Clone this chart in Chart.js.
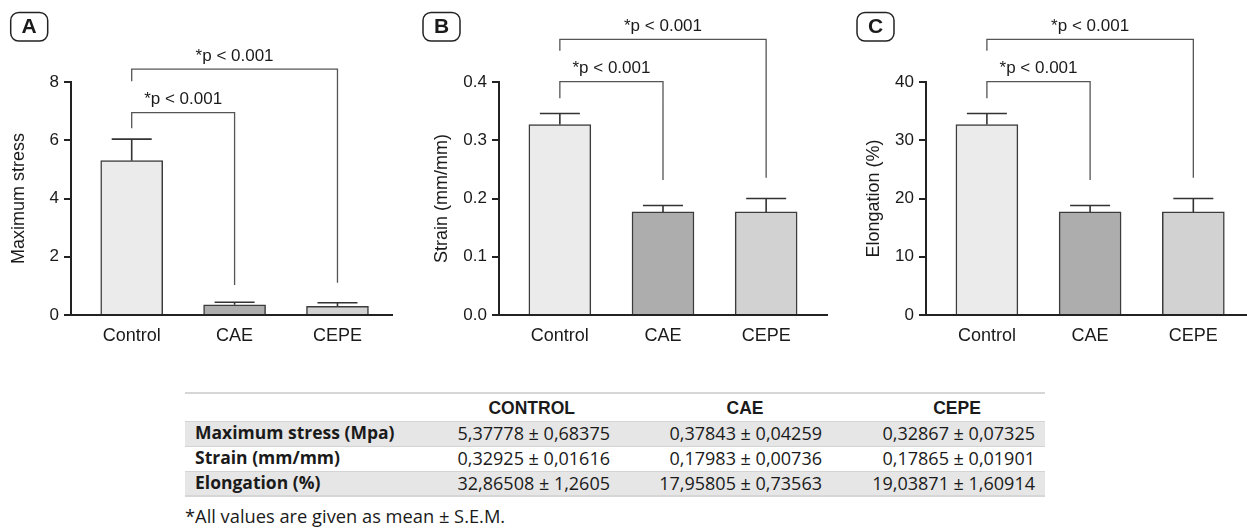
<!DOCTYPE html>
<html><head><meta charset="utf-8">
<script src="https://cdn.jsdelivr.net/npm/chart.js@4.4.0/dist/chart.umd.min.js"></script>
<style>
body{margin:0;background:#fff;width:1247px;height:529px;overflow:hidden;position:relative;font-family:'Liberation Sans',Arial,sans-serif}
canvas{position:absolute;top:0}
.band{position:absolute;left:185px;width:860px}
.t{position:absolute;white-space:nowrap;line-height:1;color:#1a1a1a}
.lab{font-family:'Open Sans',Lato,sans-serif;font-weight:700;font-size:17.5px}
.val{font-family:'Open Sans',Lato,sans-serif;font-size:18px}
.hdr{font-family:'Liberation Sans',Arial,sans-serif;font-weight:700;font-size:17.5px}
</style></head><body>
<canvas id="cA" width="400" height="350" style="left:0px"></canvas>
<canvas id="cB" width="425" height="350" style="left:410px"></canvas>
<canvas id="cC" width="407" height="350" style="left:840px"></canvas>
<div id="tbl"></div>
<script>
const categories = ['Control', 'CAE', 'CEPE'];
const barColors = ['#ebebeb', '#adadad', '#d1d2d1'];

const stressMean = [5.30, 0.35, 0.30];
const stressSem  = [0.74, 0.09, 0.12];
const strainMean = [0.327, 0.177, 0.177];
const strainSem  = [0.019, 0.011, 0.023];
const elongMean  = [32.7, 17.7, 17.7];
const elongSem   = [1.9, 1.1, 2.3];

const stressTicks = [0, 2, 4, 6, 8];
const strainTicks = [0, 0.1, 0.2, 0.3, 0.4];
const elongTicks  = [0, 10, 20, 30, 40];

const pLabel = '*p < 0.001';
// significance brackets (data units): from Control to category index "to"
const stressBrackets = [{to: 1, level: 6.95, leftEnd: 6.41, rightEnd: 1.03}, {to: 2, level: 8.44, leftEnd: 8.03, rightEnd: 1.11}];
const strainBrackets = [{to: 1, level: 0.4005, leftEnd: 0.372, rightEnd: 0.2318}, {to: 2, level: 0.4733, leftEnd: 0.4537, rightEnd: 0.2357}];
const elongBrackets  = [{to: 1, level: 40.05, leftEnd: 37.2, rightEnd: 23.18}, {to: 2, level: 47.33, leftEnd: 45.37, rightEnd: 23.57}];

const tableHeader  = ['CONTROL', 'CAE', 'CEPE'];
const tableRowLabels = ['Maximum stress (Mpa)', 'Strain (mm/mm)', 'Elongation (%)'];
const tableControl = ['5,37778 ± 0,68375', '0,32925 ± 0,01616', '32,86508 ± 1,2605'];
const tableCAE     = ['0,37843 ± 0,04259', '0,17983 ± 0,00736', '17,95805 ± 0,73563'];
const tableCEPE    = ['0,32867 ± 0,07325', '0,17865 ± 0,01901', '19,03871 ± 1,60914'];
const footnote = '*All values are given as mean ± S.E.M.';

const FONT = "'Liberation Sans', Arial, sans-serif";
const TXT = '#1a1a1a';

function makePanel(id, cfg) {
  const annot = {
    id: 'annot' + id,
    afterDatasetsDraw(chart) {
      const ctx = chart.ctx, xs = chart.scales.x, ys = chart.scales.y;
      ctx.save();
      // error bars
      ctx.strokeStyle = '#333'; ctx.lineWidth = 1.6;
      cfg.mean.forEach((m, i) => {
        const x = xs.getPixelForValue(i);
        const y0 = ys.getPixelForValue(m), y1 = ys.getPixelForValue(m + cfg.sem[i]);
        ctx.beginPath();
        ctx.moveTo(x, y0); ctx.lineTo(x, y1);
        ctx.moveTo(x - 20, y1); ctx.lineTo(x + 20, y1);
        ctx.stroke();
      });
      // brackets
      ctx.strokeStyle = '#555'; ctx.lineWidth = 1.3;
      ctx.fillStyle = TXT; ctx.font = '17px ' + FONT;
      ctx.textAlign = 'center'; ctx.textBaseline = 'middle';
      cfg.brackets.forEach(b => {
        const x0 = xs.getPixelForValue(0), x1 = xs.getPixelForValue(b.to);
        const yl = ys.getPixelForValue(b.level);
        ctx.beginPath();
        ctx.moveTo(x0, ys.getPixelForValue(b.leftEnd));
        ctx.lineTo(x0, yl); ctx.lineTo(x1, yl);
        ctx.lineTo(x1, ys.getPixelForValue(b.rightEnd));
        ctx.stroke();
        ctx.fillText(pLabel, (x0 + x1) / 2, yl - 13);
      });
      // panel letter
      ctx.strokeStyle = '#222'; ctx.lineWidth = 1.5;
      ctx.beginPath();
      ctx.roundRect(cfg.boxX, 12.5, 37, 28.5, 8);
      ctx.stroke();
      ctx.font = 'bold 21px ' + FONT;
      ctx.fillText(cfg.letter, cfg.boxX + 18.5, 27.5);
      ctx.restore();
    }
  };
  new Chart(document.getElementById(id), {
    type: 'bar',
    data: {
      datasets: [{
        data: categories.map((c, i) => ({x: i, y: cfg.mean[i]})),
        backgroundColor: barColors,
        borderColor: '#3c3c3c',
        borderWidth: 1.5,
        barThickness: 62,
        borderSkipped: 'start'
      }]
    },
    options: {
      responsive: false, animation: false, devicePixelRatio: 1,
      layout: {padding: {top: 82, right: cfg.padRight, left: 0, bottom: 0}},
      plugins: {legend: {display: false}, tooltip: {enabled: false}},
      scales: {
        x: {
          type: 'linear', min: -0.59, max: cfg.xMax, offset: false,
          afterBuildTicks: s => { s.ticks = categories.map((_, i) => ({value: i})); },
          afterFit: s => { s.height = 35; },
          grid: {display: false, drawTicks: false},
          border: {display: true, color: '#222', width: 2},
          ticks: {autoSkip: false, maxRotation: 0, padding: 10, color: TXT,
                  font: {size: 18, family: FONT}, callback: v => categories[v]}
        },
        y: {
          min: 0, max: cfg.ticks[cfg.ticks.length - 1],
          afterBuildTicks: s => { s.ticks = cfg.ticks.map(v => ({value: v})); },
          afterFit: s => { s.width = cfg.axisLeft; },
          grid: {display: true, drawOnChartArea: false, drawTicks: true, tickLength: 7, color: '#222', lineWidth: 2},
          border: {display: true, color: '#222', width: 2},
          ticks: {padding: 5, color: TXT, font: {size: 17, family: FONT}, callback: v => cfg.fmt(v)},
          title: {display: true, text: cfg.title, color: TXT, font: {size: 18, family: FONT},
                  padding: {top: cfg.titlePad, bottom: 0}}
        }
      }
    },
    plugins: [annot]
  });
}

makePanel('cA', {mean: stressMean, sem: stressSem, ticks: stressTicks, brackets: stressBrackets,
  fmt: v => String(v), title: 'Maximum stress', letter: 'A', boxX: 10.7, axisLeft: 71, padRight: 8,
  titlePad: 8.2, xMax: 2.53});
makePanel('cB', {mean: strainMean, sem: strainSem, ticks: strainTicks, brackets: strainBrackets,
  fmt: v => v.toFixed(1), title: 'Strain (mm/mm)', letter: 'B', boxX: 13, axisLeft: 89, padRight: 8,
  titlePad: 20.9, xMax: 2.59});
makePanel('cC', {mean: elongMean, sem: elongSem, ticks: elongTicks, brackets: elongBrackets,
  fmt: v => String(v), title: 'Elongation (%)', letter: 'C', boxX: 17, axisLeft: 86, padRight: 0,
  titlePad: 23.5, xMax: 2.52});

// table
(function () {
  const tbl = document.getElementById('tbl');
  const add = (cls, style, text) => {
    const d = document.createElement('div');
    d.className = cls; d.setAttribute('style', style);
    if (text !== undefined) d.textContent = text;
    tbl.appendChild(d);
    return d;
  };
  add('band', 'top:392px;height:2px;background:#d6d6d6');
  const rowTop = [421, 446, 471];
  const rowBg = ['#e6e6e6', '#ffffff', '#e6e6e6'];
  rowTop.forEach((t, i) => {
    add('band', `top:${t}px;height:25px;background:${rowBg[i]};border-top:1px solid #d4d4d4;box-sizing:border-box`);
  });
  add('band', 'top:495px;height:2px;background:#d6d6d6');
  const hdrX = [531.7, 745, 957];
  tableHeader.forEach((h, i) => {
    add('t hdr', `left:${hdrX[i] - 100}px;width:200px;text-align:center;top:400px`, h);
  });
  const rowY = [424, 449, 474];
  tableRowLabels.forEach((l, i) => {
    add('t lab', `left:195px;top:${rowY[i]}px`, l);
    add('t val', `left:${610 - 200}px;width:200px;text-align:right;top:${rowY[i]}px`, tableControl[i]);
    add('t val', `left:${822 - 200}px;width:200px;text-align:right;top:${rowY[i]}px`, tableCAE[i]);
    add('t val', `left:${1035 - 200}px;width:200px;text-align:right;top:${rowY[i]}px`, tableCEPE[i]);
  });
  add('t val', 'left:185px;top:507px;font-size:18.3px', footnote);
})();
</script>
</body></html>
